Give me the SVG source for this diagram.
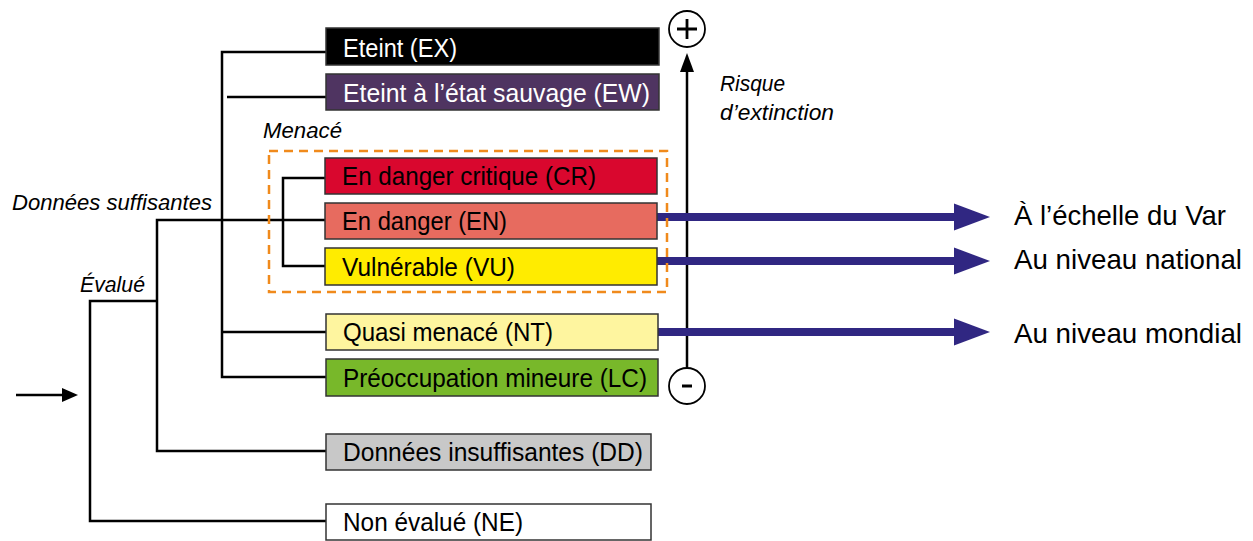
<svg xmlns="http://www.w3.org/2000/svg" width="1253" height="541" viewBox="0 0 1253 541">
<style>
.box{stroke:#333;stroke-width:1.5}
.lbl{font-family:"Liberation Sans",Arial,sans-serif;font-size:25.5px;fill:#000}
.lw{fill:#fff}
.it{font-family:"Liberation Sans",Arial,sans-serif;font-size:22px;font-style:italic;fill:#000}
.rt{font-family:"Liberation Sans",Arial,sans-serif;font-size:27.5px;fill:#000}
.ln{fill:none;stroke:#000;stroke-width:2.5}
.blue{fill:none;stroke:#302782;stroke-width:8}
</style>
<g id="connectors">
<line x1="16" y1="395" x2="66" y2="395" stroke="#000" stroke-width="2.5"/>
<path d="M62,388 L78,395 L62,402 Z" fill="#000"/>
<path class="ln" d="M157,301 H90 V521 H326"/>
<path class="ln" d="M325,220 H157 V451 H326"/>
<path class="ln" d="M326,52 H222 V377 H326"/>
<path class="ln" d="M222,332 H326"/>
<path class="ln" d="M227,97 H326"/>
<path class="ln" d="M325,178 H283 V266 H325"/>
<line x1="687" y1="70" x2="687" y2="367" stroke="#000" stroke-width="2.5"/>
<path d="M680,72 L687,53 L694,72 Z" fill="#000"/>
<line class="blue" x1="657" y1="217" x2="956" y2="217"/>
<path d="M954,203.5 L990,217 L954,230.5 Z" fill="#302782"/>
<line class="blue" x1="657" y1="261" x2="956" y2="261"/>
<path d="M954,247.5 L990,261 L954,274.5 Z" fill="#302782"/>
<line class="blue" x1="658" y1="332" x2="956" y2="332"/>
<path d="M954,318.5 L990,332 L954,345.5 Z" fill="#302782"/>
</g>
<g id="menace">
<rect x="269" y="151" width="398" height="141" fill="none" stroke="#f08a1c" stroke-width="2.5" stroke-dasharray="9,6"/>
<text class="it" x="263" y="138" textLength="79" lengthAdjust="spacingAndGlyphs">Menacé</text>
</g>
<g id="EX"><rect class="box" x="326" y="28" width="333" height="37" fill="#000"/><text class="lbl lw" x="343" y="57" textLength="114" lengthAdjust="spacingAndGlyphs">Eteint (EX)</text></g>
<g id="EW"><rect class="box" x="326" y="74" width="333" height="36" fill="#4f3461"/><text class="lbl lw" x="343" y="102" textLength="307" lengthAdjust="spacingAndGlyphs">Eteint à l’état sauvage (EW)</text></g>
<g id="CR"><rect class="box" x="325" y="158" width="332" height="36" fill="#d9072e"/><text class="lbl" x="342" y="185" textLength="254" lengthAdjust="spacingAndGlyphs">En danger critique (CR)</text></g>
<g id="EN"><rect class="box" x="325" y="203" width="332" height="36" fill="#e76b5f"/><text class="lbl" x="342" y="230" textLength="165" lengthAdjust="spacingAndGlyphs">En danger (EN)</text></g>
<g id="VU"><rect class="box" x="325" y="248" width="332" height="37" fill="#ffec00"/><text class="lbl" x="342" y="276" textLength="173" lengthAdjust="spacingAndGlyphs">Vulnérable (VU)</text></g>
<g id="NT"><rect class="box" x="326" y="314" width="332" height="36" fill="#fef59f"/><text class="lbl" x="343" y="341" textLength="210" lengthAdjust="spacingAndGlyphs">Quasi menacé (NT)</text></g>
<g id="LC"><rect class="box" x="326" y="359" width="332" height="37" fill="#78b82a"/><text class="lbl" x="343" y="387" textLength="304" lengthAdjust="spacingAndGlyphs">Préoccupation mineure (LC)</text></g>
<g id="DD"><rect class="box" x="326" y="434" width="325" height="36" fill="#c8c8c8"/><text class="lbl" x="343" y="461" textLength="300" lengthAdjust="spacingAndGlyphs">Données insuffisantes (DD)</text></g>
<g id="NE"><rect class="box" x="326" y="504" width="325" height="36" fill="#fff"/><text class="lbl" x="343" y="531" textLength="180" lengthAdjust="spacingAndGlyphs">Non évalué (NE)</text></g>
<g id="labels">
<text class="it" x="12" y="210" textLength="200" lengthAdjust="spacingAndGlyphs">Données suffisantes</text>
<text class="it" x="80" y="292" textLength="65" lengthAdjust="spacingAndGlyphs">Évalué</text>
<text class="it" x="720" y="91" textLength="65" lengthAdjust="spacingAndGlyphs">Risque</text>
<text class="it" x="720" y="120" textLength="114" lengthAdjust="spacingAndGlyphs">d’extinction</text>
</g>
<g id="plus"><circle cx="687" cy="29" r="18" fill="#fff" stroke="#000" stroke-width="1.8"/><path d="M677,29 H697 M687,19 V39" stroke="#000" stroke-width="2.8"/></g>
<g id="minus"><circle cx="687" cy="386" r="18" fill="#fff" stroke="#000" stroke-width="1.8"/><path d="M682,386 H692" stroke="#000" stroke-width="3"/></g>
<g id="scopes">
<text class="rt" x="1014" y="225" textLength="212" lengthAdjust="spacingAndGlyphs">À l’échelle du Var</text>
<text class="rt" x="1014" y="269" textLength="228" lengthAdjust="spacingAndGlyphs">Au niveau national</text>
<text class="rt" x="1014" y="343" textLength="228" lengthAdjust="spacingAndGlyphs">Au niveau mondial</text>
</g>
</svg>
